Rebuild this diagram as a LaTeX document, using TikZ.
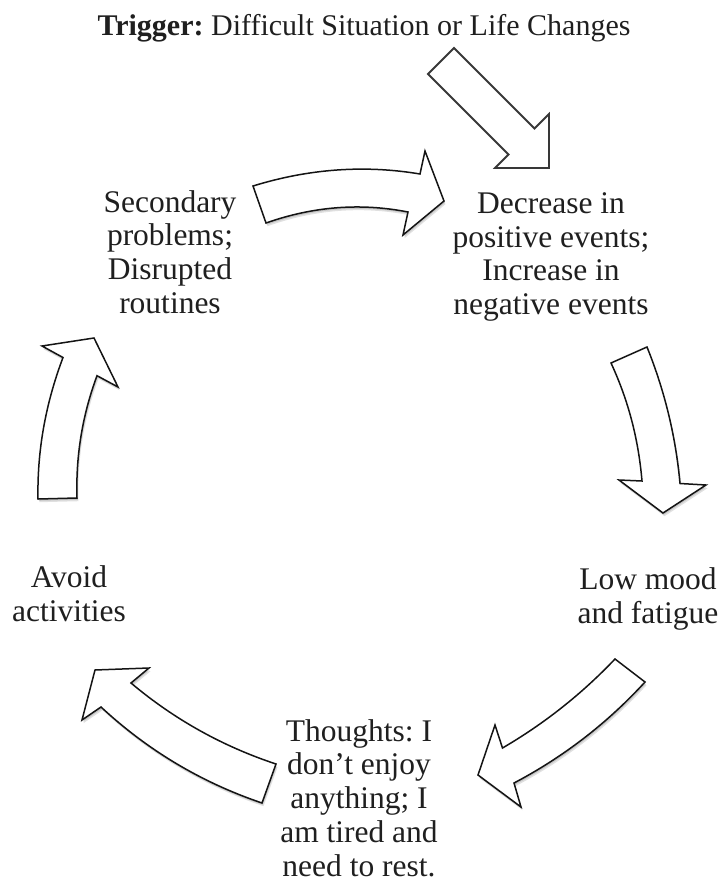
\documentclass[tikz,border=0pt]{standalone}
\usepackage{fontspec}
\setmainfont{Liberation Serif}
\frenchspacing
\begin{document}
\begin{tikzpicture}[x=1pt,y=-1pt,
  cyclelabel/.style={font=\fontsize{31.5}{33.8}\selectfont, align=center, inner sep=0pt, text=black!88},
  titlelabel/.style={font=\fontsize{30}{33}\selectfont, inner sep=0pt, text=black!88},
  blockarrow/.style={draw=black!92, line width=1.5pt, fill=white, line join=miter},
  triggerarrow/.style={draw=black!78, line width=1.8pt, fill=white, line join=miter},
  arrowshade/.style={fill=black, opacity=0.12}]
\useasboundingbox (0,0) rectangle (721,886);

% ---- texts of the cycle ----
\node[titlelabel] (trigger) at (364,28) {\textbf{Trigger:} Difficult Situation or Life Changes};
\node[cyclelabel] (decrease) at (551,257) {Decrease in\\positive events;\\Increase in\\negative events};
\node[cyclelabel] (secondary) at (170,252) {Secondary\\problems;\\Disrupted\\routines};
\node[cyclelabel] (lowmood) at (648,599) {Low mood\\and fatigue};
\node[cyclelabel] (avoid) at (69,594) {Avoid\\activities};
\node[cyclelabel] (thoughts) at (359,798) {Thoughts: I\\don’t enjoy\\anything; I\\am tired and\\need to rest.};

% ---- outlines of the block arrows ----
\def\arrowTrigger{(428,74) -- (508.5,154.5) -- (495,168) -- (549,168) -- (549,114) -- (534.5,128.5) -- (454,48) -- cycle}
\def\arrowTop{(253,186) .. controls (309,168.7) and (364.7,164.7) .. (420,174) -- (425,151) -- (444,201) -- (403,235) -- (408,212) .. controls (360.7,202.7) and (313.3,206.3) .. (266,223) -- cycle}
\def\arrowRight{(611,363) .. controls (628,399.7) and (638.3,438) .. (642,481) -- (619,480) -- (663,513) -- (706,485) -- (680,483.5) .. controls (675.7,436.3) and (664.7,391) .. (647,347) -- cycle}
\def\arrowLowRight{(615,659) .. controls (581.8,693.9) and (544.5,723.5) .. (502.5,748) -- (495,725) -- (478,775) -- (521,807) -- (514,783) .. controls (564.1,756.6) and (607.5,722.9) .. (645,682) -- cycle}
\def\arrowLowLeft{(276,764) .. controls (222.5,746.3) and (174.1,719.3) .. (131,683) -- (149,668) -- (95,670) -- (82,720) -- (101,707) .. controls (147.9,750.5) and (201.5,782.5) .. (262,803) -- cycle}
\def\arrowLeft{(38,499) .. controls (37.1,450.7) and (45.5,404) .. (63,357.5) -- (42,346) -- (94,338) -- (118,387) -- (97,375.7) .. controls (82.3,415.3) and (75.7,456) .. (77,498) -- cycle}

% trigger arrow (flat, no shadow)
\draw[triggerarrow] \arrowTrigger;

% curved arrows with a soft shadow
\foreach \p in {\arrowTop,\arrowRight,\arrowLowRight,\arrowLowLeft,\arrowLeft}{
  \fill[arrowshade, shift={(0.8,1.8)}] \p;
  \fill[arrowshade, shift={(1.5,3.2)}] \p;
}
\draw[blockarrow] \arrowTop;
\draw[blockarrow] \arrowRight;
\draw[blockarrow] \arrowLowRight;
\draw[blockarrow] \arrowLowLeft;
\draw[blockarrow] \arrowLeft;
\end{tikzpicture}
\end{document}
